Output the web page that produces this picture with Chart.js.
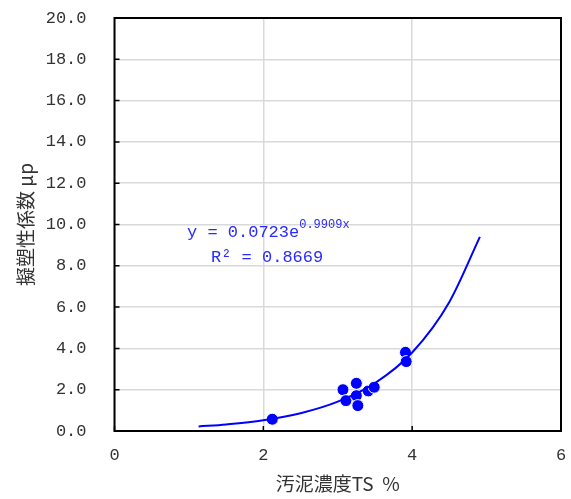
<!DOCTYPE html>
<html>
<head>
<meta charset="utf-8">
<script src="https://cdn.jsdelivr.net/npm/chart.js@4"></script>
<style>
  html, body { margin: 0; padding: 0; background: #fff; }
  #wrap { width: 571px; height: 499px; }
</style>
</head>
<body>
<div id="wrap"><canvas id="chart"></canvas></div>
<script>
// measured points
const tsValues = [2.12, 3.07, 3.25, 3.11, 3.25, 3.27, 3.41, 3.49, 3.91, 3.92]
const muValues = [0.57, 2.0, 2.31, 1.47, 1.71, 1.23, 1.94, 2.12, 3.81, 3.36]

// trend curve
const trendX = [1.13, 1.5, 2.0, 2.5, 3.0, 3.5, 4.0, 4.5, 4.91]
const trendY = [0.22, 0.32, 0.52, 0.86, 1.42, 2.32, 3.8, 6.25, 9.4]

const xTicks = [0, 2, 4, 6]
const eqText = 'y = 0.0723e'
const eqExp = '0.9909x'
const r2Text = 'R² = 0.8669'

const monoFont = '"Liberation Mono", monospace'
const labelFont = { family: monoFont, size: 17 }
const titleFont = { family: '"Noto Sans CJK JP", sans-serif', size: 19 }
const blue = '#0000ff'

const frame = {
  id: 'frame',
  afterDatasetsDraw(chart) {
    const { ctx, chartArea: a, scales } = chart
    ctx.save()
    ctx.strokeStyle = '#000'
    ctx.lineWidth = 1.5
    // inward tick marks
    ctx.beginPath()
    scales.y.ticks.forEach(t => {
      const py = scales.y.getPixelForValue(t.value)
      ctx.moveTo(a.left, py); ctx.lineTo(a.left + 5, py)
    })
    scales.x.ticks.forEach(t => {
      const px = scales.x.getPixelForValue(t.value)
      ctx.moveTo(px, a.bottom); ctx.lineTo(px, a.bottom - 5)
    })
    ctx.stroke()
    ctx.lineWidth = 2
    ctx.strokeRect(a.left, a.top, a.right - a.left, a.bottom - a.top)

    // trend equation
    ctx.fillStyle = '#2a2aff'
    ctx.font = '17px ' + monoFont
    ctx.textBaseline = 'alphabetic'
    ctx.textAlign = 'left'
    ctx.fillText(eqText, 187, 237)
    const w = ctx.measureText(eqText).width
    ctx.font = '12px ' + monoFont
    ctx.fillText(eqExp, 187 + w, 228)
    ctx.font = '17px ' + monoFont
    ctx.fillText(r2Text, 211, 262)
    ctx.restore()
  }
}

new Chart(document.getElementById('chart'), {
  type: 'scatter',
  data: {
    datasets: [{
      label: 'trend',
      type: 'line',
      data: trendX.map((x, i) => ({ x: x, y: trendY[i] })),
      borderColor: blue,
      borderWidth: 2,
      pointRadius: 0,
      cubicInterpolationMode: 'monotone',
      fill: false
    }, {
      label: 'data',
      data: tsValues.map((x, i) => ({ x: x, y: muValues[i] })),
      backgroundColor: blue,
      borderColor: '#fff',
      borderWidth: 1,
      pointRadius: 6
    }]
  },
  options: {
    responsive: true,
    maintainAspectRatio: false,
    animation: false,
    layout: { padding: 0 },
    plugins: { legend: { display: false }, tooltip: { enabled: false } },
    scales: {
      x: {
        type: 'linear',
        min: 0,
        max: 6,
        afterBuildTicks: s => { s.ticks = xTicks.map(v => ({ value: v })) },
        afterFit: s => { s.height = 68; s.paddingLeft = 0; s.paddingRight = 10 },
        grid: { color: '#d9d9d9', lineWidth: 1.5, drawTicks: false },
        border: { display: false },
        ticks: { font: labelFont, color: '#333', padding: 14 },
        title: { display: true, text: '汚泥濃度TS  %', font: titleFont, color: '#333', padding: { top: 0 } }
      },
      y: {
        min: 0,
        max: 20,
        ticks: { stepSize: 2, font: labelFont, color: '#333', padding: 28, callback: v => v.toFixed(1) },
        afterFit: s => { s.width = 114.5; s.paddingTop = 18; s.paddingBottom = 0 },
        grid: { color: '#d9d9d9', lineWidth: 1.5, drawTicks: false },
        border: { display: false },
        title: { display: true, text: '擬塑性係数 μp', font: titleFont, color: '#333', padding: { top: 14, bottom: 0 } }
      }
    }
  },
  plugins: [frame]
})
</script>
</body>
</html>
